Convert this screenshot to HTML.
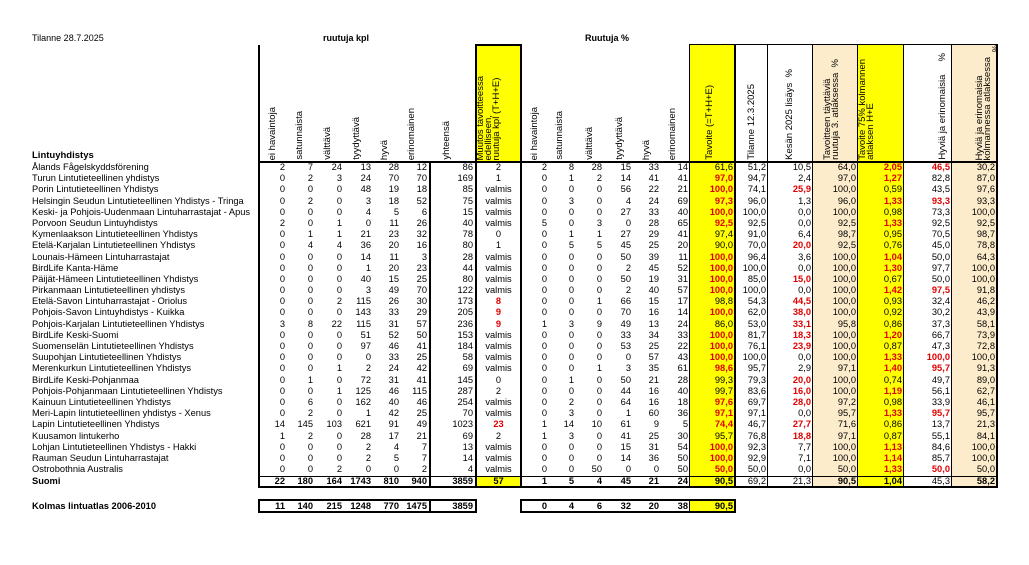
<!DOCTYPE html>
<html><head><meta charset="utf-8"><style>
*{margin:0;padding:0;box-sizing:border-box}
body{width:1029px;height:565px;position:relative;background:#fff;font-family:"Liberation Sans",Arial,sans-serif;color:#000;overflow:hidden}
.bg{position:absolute}
.y{background:#ffff00}
.p{background:#fdeccb}
.l{position:absolute;background:#000}
.t{position:absolute;font-size:9px;white-space:nowrap}
.v{position:absolute;bottom:405px;writing-mode:vertical-rl;transform:rotate(180deg);font-size:9.5px;line-height:8px;white-space:nowrap}
.rows{position:absolute;left:30px;top:162px}
.r{height:11.2px;display:grid;grid-template-columns:229px 29px 28px 29px 29px 28px 28px 46px 45px 28px 27px 28px 29px 28px 29px 45px 33px 45px 45px 46px 48px 45px;font-size:9.3px;line-height:11.4px}
.r span{text-align:right;padding-right:2px;white-space:nowrap}
.r span:nth-child(-n+8){padding-right:3px}
.r span:first-child{text-align:left;padding-left:2px}
.r span:nth-child(9){text-align:center;padding-right:0}
em{font-style:normal;font-weight:bold;color:#e00000}
.b span{font-weight:bold}
.b span.nb{font-weight:normal}
</style></head><body>
<!-- backgrounds -->
<div class="bg y" style="left:476px;top:45px;width:45px;height:117px"></div>
<div class="bg y" style="left:476px;top:476px;width:45px;height:10px"></div>
<div class="bg y" style="left:690px;top:45px;width:45px;height:441px"></div>
<div class="bg p" style="left:813px;top:45px;width:45px;height:441px"></div>
<div class="bg y" style="left:858px;top:45px;width:46px;height:441px"></div>
<div class="bg p" style="left:952px;top:45px;width:45px;height:441px"></div>
<div class="bg y" style="left:690px;top:500px;width:45px;height:12px"></div>

<div class="t" style="left:32px;top:33px">Tilanne 28.7.2025</div>
<div class="t" style="left:323px;top:33px;font-weight:bold">ruutuja kpl</div>
<div class="t" style="left:585px;top:33px;font-weight:bold">Ruutuja %</div>
<div class="t" style="left:32px;top:150px;font-weight:bold;font-size:9.5px">Lintuyhdistys</div>

<div class="v" style="left:269px">ei havaintoja</div>
<div class="v" style="left:296px">satunnaista</div>
<div class="v" style="left:324px">välttävä</div>
<div class="v" style="left:353px">tyydyttävä</div>
<div class="v" style="left:381px">hyvä</div>
<div class="v" style="left:408px">erinomainen</div>
<div class="v" style="left:443px">yhteensä</div>
<div class="v" style="left:477px">Muutos tavoitteessa<br>edelliseen,<br>ruutuja kpl (T+H+E)</div>
<div class="v" style="left:531px">ei havaintoja</div>
<div class="v" style="left:556px">satunnaista</div>
<div class="v" style="left:586px">välttävä</div>
<div class="v" style="left:616px">tyydyttävä</div>
<div class="v" style="left:643px">hyvä</div>
<div class="v" style="left:669px">erinomainen</div>
<div class="v" style="left:706px">Tavoite (=T+H+E)</div>
<div class="v" style="left:748px">Tilanne 12.3.2025</div>
<div class="v" style="left:786px">Kesän 2025 lisäys &nbsp;%</div>
<div class="v" style="left:824px">Tavoitteen täyttäviä<br>ruutuja 3. atlaksessa &nbsp;%</div>
<div class="v" style="left:859px">Tavoite 75% kolmannen<br>atlaksen H+E</div>
<div class="v" style="left:939px">Hyviä ja erinomaisia &nbsp;&nbsp;&nbsp;&nbsp;%</div>
<div class="v" style="left:976px">Hyviä ja erinomaisia<br>kolmannessa atlaksessa</div>
<div class="t" style="left:992px;top:44px;transform:rotate(-90deg);font-size:8px">%</div>

<div class="rows">
<div class="r"><span>Ålands Fågelskyddsförening</span><span>2</span><span>7</span><span>24</span><span>13</span><span>28</span><span>12</span><span>86</span><span>2</span><span>2</span><span>8</span><span>28</span><span>15</span><span>33</span><span>14</span><span>61,6</span><span>51,2</span><span>10,5</span><span>64,0</span><span><em>2,05</em></span><span><em>46,5</em></span><span>30,2</span></div>
<div class="r"><span>Turun Lintutieteellinen yhdistys</span><span>0</span><span>2</span><span>3</span><span>24</span><span>70</span><span>70</span><span>169</span><span>1</span><span>0</span><span>1</span><span>2</span><span>14</span><span>41</span><span>41</span><span><em>97,0</em></span><span>94,7</span><span>2,4</span><span>97,0</span><span><em>1,27</em></span><span>82,8</span><span>87,0</span></div>
<div class="r"><span>Porin Lintutieteellinen Yhdistys</span><span>0</span><span>0</span><span>0</span><span>48</span><span>19</span><span>18</span><span>85</span><span>valmis</span><span>0</span><span>0</span><span>0</span><span>56</span><span>22</span><span>21</span><span><em>100,0</em></span><span>74,1</span><span><em>25,9</em></span><span>100,0</span><span>0,59</span><span>43,5</span><span>97,6</span></div>
<div class="r"><span>Helsingin Seudun Lintutieteellinen Yhdistys - Tringa</span><span>0</span><span>2</span><span>0</span><span>3</span><span>18</span><span>52</span><span>75</span><span>valmis</span><span>0</span><span>3</span><span>0</span><span>4</span><span>24</span><span>69</span><span><em>97,3</em></span><span>96,0</span><span>1,3</span><span>96,0</span><span><em>1,33</em></span><span><em>93,3</em></span><span>93,3</span></div>
<div class="r"><span>Keski- ja Pohjois-Uudenmaan Lintuharrastajat - Apus</span><span>0</span><span>0</span><span>0</span><span>4</span><span>5</span><span>6</span><span>15</span><span>valmis</span><span>0</span><span>0</span><span>0</span><span>27</span><span>33</span><span>40</span><span><em>100,0</em></span><span>100,0</span><span>0,0</span><span>100,0</span><span>0,98</span><span>73,3</span><span>100,0</span></div>
<div class="r"><span>Porvoon Seudun Lintuyhdistys</span><span>2</span><span>0</span><span>1</span><span>0</span><span>11</span><span>26</span><span>40</span><span>valmis</span><span>5</span><span>0</span><span>3</span><span>0</span><span>28</span><span>65</span><span><em>92,5</em></span><span>92,5</span><span>0,0</span><span>92,5</span><span><em>1,33</em></span><span>92,5</span><span>92,5</span></div>
<div class="r"><span>Kymenlaakson Lintutieteellinen Yhdistys</span><span>0</span><span>1</span><span>1</span><span>21</span><span>23</span><span>32</span><span>78</span><span>0</span><span>0</span><span>1</span><span>1</span><span>27</span><span>29</span><span>41</span><span>97,4</span><span>91,0</span><span>6,4</span><span>98,7</span><span>0,95</span><span>70,5</span><span>98,7</span></div>
<div class="r"><span>Etelä-Karjalan Lintutieteellinen Yhdistys</span><span>0</span><span>4</span><span>4</span><span>36</span><span>20</span><span>16</span><span>80</span><span>1</span><span>0</span><span>5</span><span>5</span><span>45</span><span>25</span><span>20</span><span>90,0</span><span>70,0</span><span><em>20,0</em></span><span>92,5</span><span>0,76</span><span>45,0</span><span>78,8</span></div>
<div class="r"><span>Lounais-Hämeen Lintuharrastajat</span><span>0</span><span>0</span><span>0</span><span>14</span><span>11</span><span>3</span><span>28</span><span>valmis</span><span>0</span><span>0</span><span>0</span><span>50</span><span>39</span><span>11</span><span><em>100,0</em></span><span>96,4</span><span>3,6</span><span>100,0</span><span><em>1,04</em></span><span>50,0</span><span>64,3</span></div>
<div class="r"><span>BirdLife Kanta-Häme</span><span>0</span><span>0</span><span>0</span><span>1</span><span>20</span><span>23</span><span>44</span><span>valmis</span><span>0</span><span>0</span><span>0</span><span>2</span><span>45</span><span>52</span><span><em>100,0</em></span><span>100,0</span><span>0,0</span><span>100,0</span><span><em>1,30</em></span><span>97,7</span><span>100,0</span></div>
<div class="r"><span>Päijät-Hämeen Lintutieteellinen Yhdistys</span><span>0</span><span>0</span><span>0</span><span>40</span><span>15</span><span>25</span><span>80</span><span>valmis</span><span>0</span><span>0</span><span>0</span><span>50</span><span>19</span><span>31</span><span><em>100,0</em></span><span>85,0</span><span><em>15,0</em></span><span>100,0</span><span>0,67</span><span>50,0</span><span>100,0</span></div>
<div class="r"><span>Pirkanmaan Lintutieteellinen yhdistys</span><span>0</span><span>0</span><span>0</span><span>3</span><span>49</span><span>70</span><span>122</span><span>valmis</span><span>0</span><span>0</span><span>0</span><span>2</span><span>40</span><span>57</span><span><em>100,0</em></span><span>100,0</span><span>0,0</span><span>100,0</span><span><em>1,42</em></span><span><em>97,5</em></span><span>91,8</span></div>
<div class="r"><span>Etelä-Savon Lintuharrastajat - Oriolus</span><span>0</span><span>0</span><span>2</span><span>115</span><span>26</span><span>30</span><span>173</span><span><em>8</em></span><span>0</span><span>0</span><span>1</span><span>66</span><span>15</span><span>17</span><span>98,8</span><span>54,3</span><span><em>44,5</em></span><span>100,0</span><span>0,93</span><span>32,4</span><span>46,2</span></div>
<div class="r"><span>Pohjois-Savon Lintuyhdistys - Kuikka</span><span>0</span><span>0</span><span>0</span><span>143</span><span>33</span><span>29</span><span>205</span><span><em>9</em></span><span>0</span><span>0</span><span>0</span><span>70</span><span>16</span><span>14</span><span><em>100,0</em></span><span>62,0</span><span><em>38,0</em></span><span>100,0</span><span>0,92</span><span>30,2</span><span>43,9</span></div>
<div class="r"><span>Pohjois-Karjalan Lintutieteellinen Yhdistys</span><span>3</span><span>8</span><span>22</span><span>115</span><span>31</span><span>57</span><span>236</span><span><em>9</em></span><span>1</span><span>3</span><span>9</span><span>49</span><span>13</span><span>24</span><span>86,0</span><span>53,0</span><span><em>33,1</em></span><span>95,8</span><span>0,86</span><span>37,3</span><span>58,1</span></div>
<div class="r"><span>BirdLife Keski-Suomi</span><span>0</span><span>0</span><span>0</span><span>51</span><span>52</span><span>50</span><span>153</span><span>valmis</span><span>0</span><span>0</span><span>0</span><span>33</span><span>34</span><span>33</span><span><em>100,0</em></span><span>81,7</span><span><em>18,3</em></span><span>100,0</span><span><em>1,20</em></span><span>66,7</span><span>73,9</span></div>
<div class="r"><span>Suomenselän Lintutieteellinen Yhdistys</span><span>0</span><span>0</span><span>0</span><span>97</span><span>46</span><span>41</span><span>184</span><span>valmis</span><span>0</span><span>0</span><span>0</span><span>53</span><span>25</span><span>22</span><span><em>100,0</em></span><span>76,1</span><span><em>23,9</em></span><span>100,0</span><span>0,87</span><span>47,3</span><span>72,8</span></div>
<div class="r"><span>Suupohjan Lintutieteellinen Yhdistys</span><span>0</span><span>0</span><span>0</span><span>0</span><span>33</span><span>25</span><span>58</span><span>valmis</span><span>0</span><span>0</span><span>0</span><span>0</span><span>57</span><span>43</span><span><em>100,0</em></span><span>100,0</span><span>0,0</span><span>100,0</span><span><em>1,33</em></span><span><em>100,0</em></span><span>100,0</span></div>
<div class="r"><span>Merenkurkun Lintutieteellinen Yhdistys</span><span>0</span><span>0</span><span>1</span><span>2</span><span>24</span><span>42</span><span>69</span><span>valmis</span><span>0</span><span>0</span><span>1</span><span>3</span><span>35</span><span>61</span><span><em>98,6</em></span><span>95,7</span><span>2,9</span><span>97,1</span><span><em>1,40</em></span><span><em>95,7</em></span><span>91,3</span></div>
<div class="r"><span>BirdLife Keski-Pohjanmaa</span><span>0</span><span>1</span><span>0</span><span>72</span><span>31</span><span>41</span><span>145</span><span>0</span><span>0</span><span>1</span><span>0</span><span>50</span><span>21</span><span>28</span><span>99,3</span><span>79,3</span><span><em>20,0</em></span><span>100,0</span><span>0,74</span><span>49,7</span><span>89,0</span></div>
<div class="r"><span>Pohjois-Pohjanmaan Lintutieteellinen Yhdistys</span><span>0</span><span>0</span><span>1</span><span>125</span><span>46</span><span>115</span><span>287</span><span>2</span><span>0</span><span>0</span><span>0</span><span>44</span><span>16</span><span>40</span><span>99,7</span><span>83,6</span><span><em>16,0</em></span><span>100,0</span><span><em>1,19</em></span><span>56,1</span><span>62,7</span></div>
<div class="r"><span>Kainuun Lintutieteellinen Yhdistys</span><span>0</span><span>6</span><span>0</span><span>162</span><span>40</span><span>46</span><span>254</span><span>valmis</span><span>0</span><span>2</span><span>0</span><span>64</span><span>16</span><span>18</span><span><em>97,6</em></span><span>69,7</span><span><em>28,0</em></span><span>97,2</span><span>0,98</span><span>33,9</span><span>46,1</span></div>
<div class="r"><span>Meri-Lapin lintutieteellinen yhdistys - Xenus</span><span>0</span><span>2</span><span>0</span><span>1</span><span>42</span><span>25</span><span>70</span><span>valmis</span><span>0</span><span>3</span><span>0</span><span>1</span><span>60</span><span>36</span><span><em>97,1</em></span><span>97,1</span><span>0,0</span><span>95,7</span><span><em>1,33</em></span><span><em>95,7</em></span><span>95,7</span></div>
<div class="r"><span>Lapin Lintutieteellinen Yhdistys</span><span>14</span><span>145</span><span>103</span><span>621</span><span>91</span><span>49</span><span>1023</span><span><em>23</em></span><span>1</span><span>14</span><span>10</span><span>61</span><span>9</span><span>5</span><span><em>74,4</em></span><span>46,7</span><span><em>27,7</em></span><span>71,6</span><span>0,86</span><span>13,7</span><span>21,3</span></div>
<div class="r"><span>Kuusamon lintukerho</span><span>1</span><span>2</span><span>0</span><span>28</span><span>17</span><span>21</span><span>69</span><span>2</span><span>1</span><span>3</span><span>0</span><span>41</span><span>25</span><span>30</span><span>95,7</span><span>76,8</span><span><em>18,8</em></span><span>97,1</span><span>0,87</span><span>55,1</span><span>84,1</span></div>
<div class="r"><span>Lohjan Lintutieteellinen Yhdistys - Hakki</span><span>0</span><span>0</span><span>0</span><span>2</span><span>4</span><span>7</span><span>13</span><span>valmis</span><span>0</span><span>0</span><span>0</span><span>15</span><span>31</span><span>54</span><span><em>100,0</em></span><span>92,3</span><span>7,7</span><span>100,0</span><span><em>1,13</em></span><span>84,6</span><span>100,0</span></div>
<div class="r"><span>Rauman Seudun Lintuharrastajat</span><span>0</span><span>0</span><span>0</span><span>2</span><span>5</span><span>7</span><span>14</span><span>valmis</span><span>0</span><span>0</span><span>0</span><span>14</span><span>36</span><span>50</span><span><em>100,0</em></span><span>92,9</span><span>7,1</span><span>100,0</span><span><em>1,14</em></span><span>85,7</span><span>100,0</span></div>
<div class="r"><span>Ostrobothnia Australis</span><span>0</span><span>0</span><span>2</span><span>0</span><span>0</span><span>2</span><span>4</span><span>valmis</span><span>0</span><span>0</span><span>50</span><span>0</span><span>0</span><span>50</span><span><em>50,0</em></span><span>50,0</span><span>0,0</span><span>50,0</span><span><em>1,33</em></span><span><em>50,0</em></span><span>50,0</span></div>
</div>
<div class="rows" style="top:476px">
<div class="r b" style="height:10px;line-height:10.5px"><span>Suomi</span><span>22</span><span>180</span><span>164</span><span>1743</span><span>810</span><span>940</span><span>3859</span><span>57</span><span>1</span><span>5</span><span>4</span><span>45</span><span>21</span><span>24</span><span>90,5</span><span class="nb">69,2</span><span class="nb">21,3</span><span>90,5</span><span>1,04</span><span class="nb">45,3</span><span>58,2</span></div>
</div>
<div class="rows" style="top:500px">
<div class="r b" style="height:12px;line-height:12px"><span>Kolmas lintuatlas 2006-2010</span><span>11</span><span>140</span><span>215</span><span>1248</span><span>770</span><span>1475</span><span>3859</span><span></span><span>0</span><span>4</span><span>6</span><span>32</span><span>20</span><span>38</span><span>90,5</span><span></span><span></span><span></span><span></span><span></span><span></span></div>
</div>

<!-- lines: verticals -->
<div class="l" style="left:258px;top:45px;width:2px;height:442px"></div>
<div class="l" style="left:429px;top:162px;width:2px;height:325px"></div>
<div class="l" style="left:475px;top:45px;width:2px;height:442px"></div>
<div class="l" style="left:520px;top:45px;width:2px;height:442px"></div>
<div class="l" style="left:689px;top:45px;width:1px;height:442px"></div>
<div class="l" style="left:734px;top:45px;width:2px;height:442px"></div>
<div class="l" style="left:767px;top:45px;width:1px;height:442px"></div>
<div class="l" style="left:812px;top:45px;width:1px;height:442px"></div>
<div class="l" style="left:857px;top:45px;width:1px;height:442px"></div>
<div class="l" style="left:903px;top:45px;width:1px;height:442px"></div>
<div class="l" style="left:951px;top:45px;width:1px;height:442px"></div>
<div class="l" style="left:996px;top:45px;width:2px;height:442px"></div>
<!-- horizontals -->
<div class="l" style="left:475px;top:44px;width:47px;height:2px"></div>
<div class="l" style="left:689px;top:44px;width:309px;height:1px"></div>
<div class="l" style="left:258px;top:161px;width:740px;height:2px"></div>
<div class="l" style="left:258px;top:476px;width:740px;height:1px"></div>
<div class="l" style="left:258px;top:486px;width:740px;height:2px"></div>
<!-- Kolmas boxes -->
<div class="l" style="left:258px;top:499px;width:219px;height:2px"></div>
<div class="l" style="left:258px;top:511px;width:219px;height:2px"></div>
<div class="l" style="left:258px;top:499px;width:2px;height:14px"></div>
<div class="l" style="left:429px;top:499px;width:2px;height:14px"></div>
<div class="l" style="left:475px;top:499px;width:2px;height:14px"></div>
<div class="l" style="left:520px;top:499px;width:216px;height:2px"></div>
<div class="l" style="left:520px;top:511px;width:216px;height:2px"></div>
<div class="l" style="left:520px;top:499px;width:2px;height:14px"></div>
<div class="l" style="left:689px;top:499px;width:1px;height:14px"></div>
<div class="l" style="left:734px;top:499px;width:2px;height:14px"></div>
</body></html>
